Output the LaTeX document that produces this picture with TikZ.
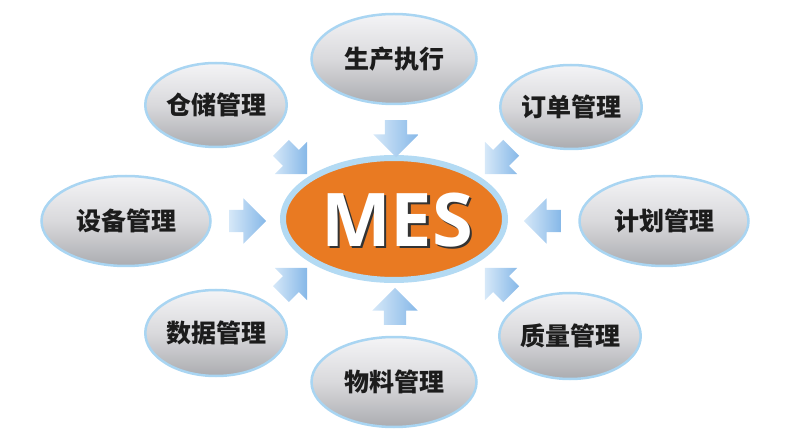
\documentclass[tikz,border=0pt]{standalone}
\usepackage{fontspec}
\usetikzlibrary{shapes.geometric,shapes.arrows}
\newfontfamily\cjk{Noto Sans CJK SC}
\newfontfamily\mesfont{Open Sans}
\definecolor{satBorder}{HTML}{A9D5F2}
\definecolor{satTop}{HTML}{F4F4F6}
\definecolor{satMid}{HTML}{D9D9DC}
\definecolor{satBot}{HTML}{ABACB0}
\definecolor{satText}{HTML}{1C1C1C}
\definecolor{mesOrange}{HTML}{E97A22}
\definecolor{mesBorder}{HTML}{B3DAF3}
\definecolor{arrLight}{HTML}{D6E8F8}
\definecolor{arrDark}{HTML}{86B8E8}
\begin{document}
\begin{tikzpicture}[x=1pt,y=1pt]
\useasboundingbox (0,0) rectangle (800,442);
\tikzset{
  sat/.style={ellipse, draw=satBorder, line width=2.5pt, top color=satTop,
    bottom color=satBot, middle color=satMid, inner sep=0pt,
    font=\cjk\bfseries\fontsize{25}{25}\selectfont, text=satText},
  barrow/.style={single arrow, inner xsep=0pt, inner ysep=11pt, minimum height=37pt,
    single arrow head extend=11.5pt,
    single arrow head indent=0pt, left color=arrLight, right color=arrDark,
    draw=none},
}
% satellites (image y -> 442 - y)
\node[sat, minimum width=165pt, minimum height=90pt] (prod) at (394,383) {生产执行};
\node[sat, minimum width=122pt, minimum height=84pt] (stock) at (216,337) {仓储管理};
\node[sat, minimum width=122pt, minimum height=84pt] (order) at (571,335) {订单管理};
\node[sat, minimum width=169pt, minimum height=90pt] (equip) at (126,221) {设备管理};
\node[sat, minimum width=169pt, minimum height=90pt] (plan) at (664,221) {计划管理};
\node[sat, minimum width=122pt, minimum height=86pt] (data) at (216,109) {数据管理};
\node[sat, minimum width=122pt, minimum height=86pt] (qual) at (570,106) {质量管理};
\node[sat, minimum width=165pt, minimum height=90pt] (mat) at (394,60) {物料管理};
% centre
\node[ellipse, fill=mesOrange, draw=mesBorder, line width=6pt,
  minimum width=222pt, minimum height=122pt] (mes) at (394,223) {};
\node[text=white, font=\mesfont\bfseries\fontsize{74}{74}\selectfont] (mestxt) at (397,221)
  {\makebox[0pt][l]{\kern2.5pt\raisebox{-2.5pt}{\color{black!80}MES}}MES};
% arrows
\node[barrow, rotate=-90] (a1) at (396,309) {};
\node[barrow, rotate=90] (a2) at (395,130) {};
\node[barrow, rotate=0] (a3) at (242,221) {};
\node[barrow, rotate=180] (a4) at (548,221) {};
\node[barrow, rotate=-45] (a5) at (290,285) {};
\node[barrow, rotate=-135] (a6) at (502,285) {};
\node[barrow, rotate=45] (a7) at (290,157) {};
\node[barrow, rotate=135] (a8) at (502,157) {};
\end{tikzpicture}
\end{document}
